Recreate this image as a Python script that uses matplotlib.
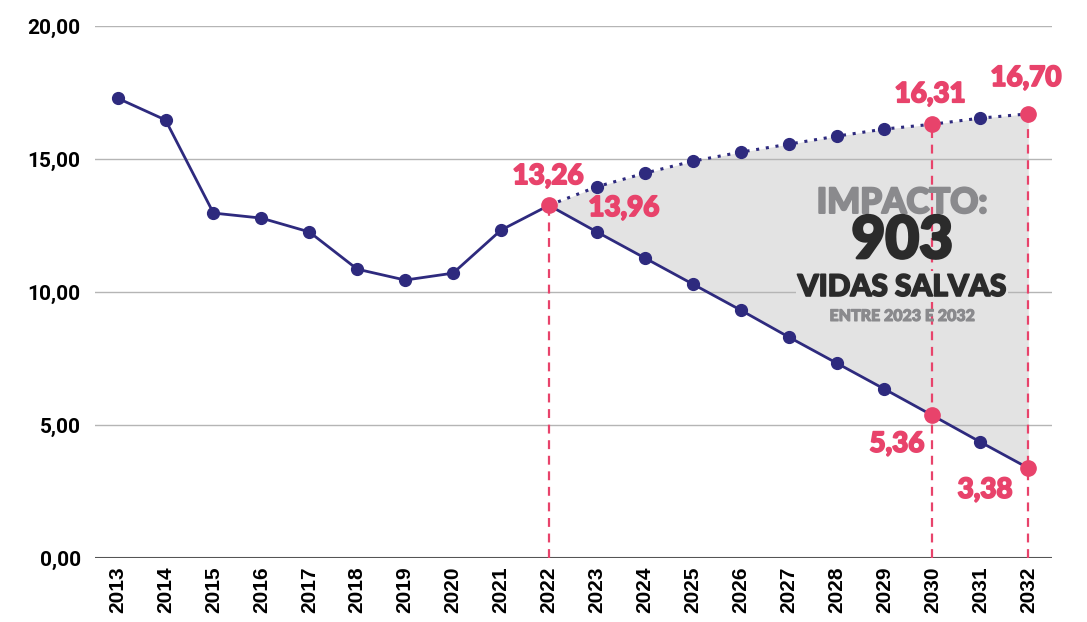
#Impacto_chart

#Importing_Library
import numpy as np
import matplotlib.pyplot as plt
import matplotlib.patheffects as pe

#Data
anos_hist = [2013, 2014, 2015, 2016, 2017, 2018, 2019, 2020, 2021, 2022]
taxa_hist = [17.29, 16.47, 12.97, 12.78, 12.26, 10.86, 10.45, 10.71, 12.33, 13.26]

anos_proj = [2022, 2023, 2024, 2025, 2026, 2027, 2028, 2029, 2030, 2031, 2032]
taxa_tendencia = [13.26, 13.96, 14.47, 14.92, 15.26, 15.56, 15.86, 16.13, 16.31, 16.54, 16.70]
taxa_meta = [13.26, 12.26, 11.28, 10.30, 9.32, 8.31, 7.33, 6.35, 5.36, 4.36, 3.38]

destaques_x = [2022, 2030, 2032]
yticks = [0, 5, 10, 15, 20]
ytick_labels = ['0,00', '5,00', '10,00', '15,00', '20,00']

navy = '#2e2a7e'
pink = '#e8436b'
fill_grey = '#e3e3e3'

fig = plt.figure(figsize=(10.87, 6.22), dpi=100)
ax = fig.add_axes([0.087, 0.103, 0.881, 0.855])

#Shaded_area
ax.fill_between(anos_proj, taxa_meta, taxa_tendencia, color=fill_grey, zorder=1, lw=0)

#Grid
for v in yticks[1:]:
    ax.axhline(v, color='#b5b5b5', lw=1, zorder=2)
ax.axhline(0, color='#555555', lw=1.5, zorder=2)

#Dashed_verticals
for x in destaques_x:
    top = taxa_tendencia[anos_proj.index(x)]
    if x == 2022:
        top = taxa_hist[-1]
    ax.vlines(x, 0, top, colors=pink, linestyles=(0, (4, 3)), lw=1.6, zorder=3)

#Lines
ax.plot(anos_hist, taxa_hist, color=navy, lw=2, marker='o', ms=8.5, zorder=4)
ax.plot(anos_proj, taxa_meta, color=navy, lw=2, marker='o', ms=8.5, zorder=4)
ax.plot(anos_proj, taxa_tendencia, color=navy, lw=2.2, ls=(0, (1, 2.2)), marker='o',
        ms=8.5, zorder=4)

#Highlight_points
hx = [2022, 2030, 2032, 2030, 2032]
hy = [taxa_hist[-1], taxa_tendencia[8], taxa_tendencia[10], taxa_meta[8], taxa_meta[10]]
ax.plot(hx, hy, ls='none', marker='o', ms=11, color=pink, zorder=5)

#Labels
def grosso(cor, w=1.3):
    return [pe.withStroke(linewidth=w, foreground=cor)]

lbl_font = dict(color=pink, fontsize=20, fontweight='black', family='Lato',
                ha='center', va='center', zorder=6, path_effects=grosso(pink))
ax.text(2021.98, 14.36, '13,26', **lbl_font)
ax.text(2023.56, 13.16, '13,96', **lbl_font)
ax.text(2029.95, 17.44, '16,31', **lbl_font)
ax.text(2030.0 + 1.95, 18.05, '16,70', clip_on=False, **lbl_font)
ax.text(2029.26, 4.29, '5,36', **lbl_font)
ax.text(2031.1, 2.56, '3,38', **lbl_font)

#Impacto_text
ax.text(2029.37, 13.35, 'IMPACTO:', color='#8a8a8d', fontsize=25, fontweight='black',
        family='Lato', ha='center', va='center', zorder=6,
        path_effects=grosso('#8a8a8d', 1.5))
ax.text(2029.37, 11.9, '903', color='#2b2b2b', fontsize=42, fontweight='black',
        family='Lato', ha='center', va='center', zorder=6,
        path_effects=grosso('#2b2b2b', 2))
ax.text(2029.37, 10.19, 'VIDAS SALVAS', color='#2b2b2b', fontsize=21.5, fontweight='black',
        family='Lato', ha='center', va='center', zorder=6,
        bbox=dict(facecolor=fill_grey, edgecolor='none', pad=1),
        path_effects=grosso('#2b2b2b', 1.2))
ax.text(2029.37, 9.1, 'ENTRE 2023 E 2032', color='#8a8a8d', fontsize=11.5,
        fontweight='black', family='Lato', ha='center', va='center', zorder=6,
        path_effects=grosso('#8a8a8d', 0.8))

#Axes
ax.set_xlim(2012.52, 2032.5)
ax.set_ylim(0, 20)
ax.set_yticks(yticks)
ax.set_yticklabels(ytick_labels, fontsize=15, fontweight='bold', family='Roboto')
anos_todos = list(range(2013, 2033))
ax.set_xticks(anos_todos)
ax.set_xticklabels([str(a) for a in anos_todos], rotation=90, fontsize=15,
                   fontweight='bold', family='Liberation Sans')
ax.tick_params(axis='x', length=0, pad=6)
ax.tick_params(axis='y', length=0, pad=10)
for s in ax.spines.values():
    s.set_visible(False)

fig.savefig('out.png', dpi=100, facecolor='white')
